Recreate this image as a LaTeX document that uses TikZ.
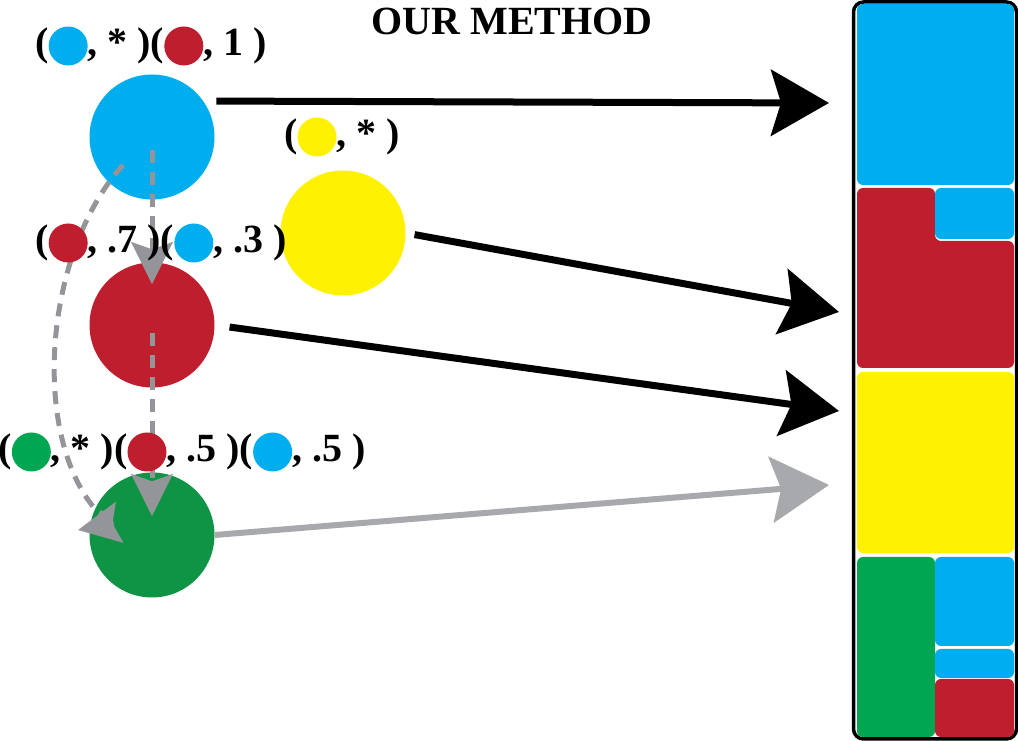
\documentclass[tikz,border=0pt]{standalone}
\usepackage{fontspec}
\setmainfont{Liberation Serif}
\usepackage{tikz}
\usetikzlibrary{arrows.meta}

\definecolor{cblue}{HTML}{00AEEF}
\definecolor{cred}{HTML}{BE1E2D}
\definecolor{cyellow}{HTML}{FFF200}
\definecolor{cgreen}{HTML}{00A651}
\definecolor{cdgreen}{HTML}{0F9445}
\definecolor{cgray}{HTML}{A7A9AC}
\definecolor{cdgray}{HTML}{939598}

\newcommand{\dotc}[1]{\tikz[baseline=-10pt]\fill[#1] (0,0) circle (19.5pt);}

\tikzset{
    bigdot/.style={circle, minimum size=125pt, inner sep=0pt},
    pairlabel/.style={font=\fontsize{40}{44}\selectfont\bfseries, inner sep=0pt, anchor=base},
    bigarrow/.style={line width=7pt, -{Stealth[length=58pt, width=66pt, inset=10pt]}},
    dasharrow/.style={cdgray, line width=5pt, dash pattern=on 13pt off 9pt, line join=round,
        -{Stealth[length=42pt, width=41pt, inset=7pt]}},
    block/.style={rounded corners=6pt},
}

\begin{document}
\begin{tikzpicture}[x=1pt, y=1pt]
    \useasboundingbox (0,0) rectangle (1018,741);

    \node[bigdot, fill=cblue] (blue) at (152,604) {};
    \node[bigdot, fill=cyellow] (yellow) at (343,508) {};
    \node[bigdot, fill=cred] (red) at (152,416) {};
    \node[bigdot, fill=cdgreen] (green) at (152,206) {};

    \coordinate (cstart) at (123,576);
    \coordinate (cbend) at (116,218);
    \coordinate (ctip) at (78,211);
    \draw[dasharrow, shorten <=13pt, shorten >=-22pt] (blue.center) -- (red.north);
    \draw[dasharrow, shorten <=8pt, shorten >=-44pt] (red.center) -- (green.north);
    \draw[dasharrow] (cstart) .. controls (45,490) and (30,310) .. (95,232) -- (cbend) -- (ctip);

    \node[pairlabel] (title) at (512,706) {OUR METHOD};
    \node[pairlabel] (lblue) at (151,685) {(\dotc{cblue}, * )(\dotc{cred}, 1 )};
    \node[pairlabel] (lyellow) at (342,594) {(\dotc{cyellow}, * )};
    \node[pairlabel] (lred) at (161,488) {(\dotc{cred}, .7 )(\dotc{cblue}, .3 )};
    \node[pairlabel] (lgreen) at (182,279) {(\dotc{cgreen}, * )(\dotc{cred}, .5 )(\dotc{cblue}, .5 )};

    \coordinate (t1) at (829,638);
    \coordinate (t2) at (839,429);
    \coordinate (t3) at (839,330);
    \coordinate (t4) at (829,256);
    \draw[bigarrow, shorten <=13pt] (blue.35) -- (t1);
    \draw[bigarrow, shorten <=9pt] (yellow.east) -- (t2);
    \draw[bigarrow, shorten <=15pt] (red.east) -- (t3);
    \draw[bigarrow, cgray, line width=6pt] (green.east) -- (t4);

    \draw[line width=3.5pt, rounded corners=10pt, fill=white] (853.5,2) rectangle (1016.5,739);
    \fill[cblue, block] (857,556) rectangle (1014,737);
    \fill[cred, block] (857,373) -- (857,553) -- (935,553) -- (935,500) -- (1014,500) -- (1014,373) -- cycle;
    \fill[cblue, block] (935,502) rectangle (1014,553);
    \fill[cyellow, block] (857,188) rectangle (1014,369);
    \fill[cgreen, block] (857,4) rectangle (935,184);
    \fill[cblue, block] (935,95) rectangle (1014,184);
    \fill[cblue, block] (935,63) rectangle (1014,92);
    \fill[cred, block] (935,4) rectangle (1014,62);
\end{tikzpicture}
\end{document}
